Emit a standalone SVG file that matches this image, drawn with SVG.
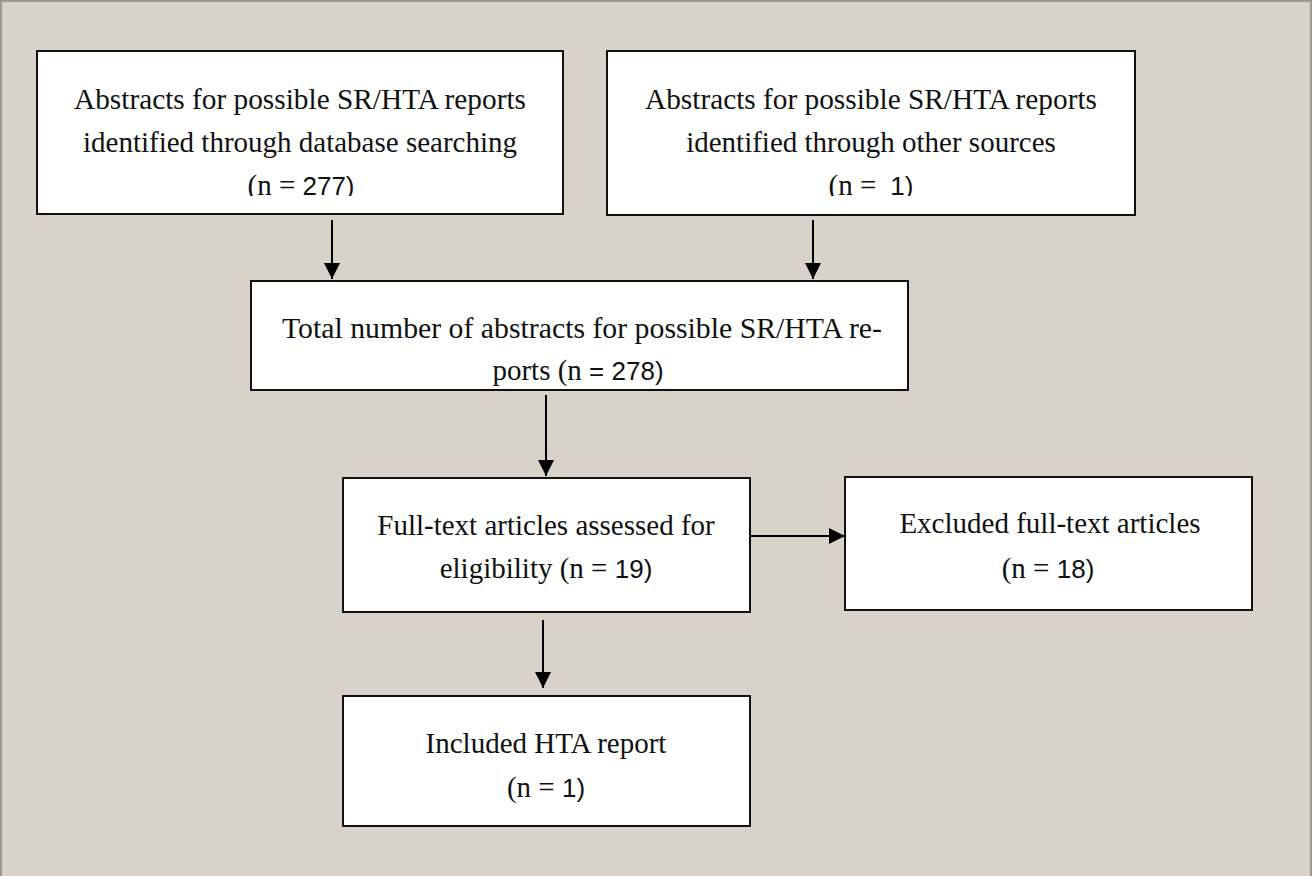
<svg xmlns="http://www.w3.org/2000/svg" width="1312" height="876" viewBox="0 0 1312 876">
<style>
.bg{fill:#d9d2cb;stroke:#9e9891;stroke-width:2}
.box{fill:#ffffff;stroke:#111111;stroke-width:2}
.t{font-family:"Liberation Serif","Times New Roman",serif;font-size:29px;fill:#111111;text-anchor:middle}
.n{font-family:"Liberation Sans",Arial,sans-serif;font-size:26px}
.c{stroke:#000000;stroke-width:2;fill:none}
</style>
<defs>
<marker id="ah" markerUnits="userSpaceOnUse" markerWidth="18" markerHeight="18" viewBox="0 0 18 18" refX="16" refY="9" orient="auto">
<path d="M0,1 L16,9 L0,17 Z" fill="#000000"/>
</marker>
<clipPath id="clip1"><rect x="0" y="0" width="1312" height="196"/></clipPath>
</defs>
<rect class="bg" x="1" y="1" width="1310" height="880"/>
<g id="connectors">
<line class="c" x1="332" y1="220" x2="332" y2="279" marker-end="url(#ah)"/>
<line class="c" x1="813" y1="220" x2="813" y2="279" marker-end="url(#ah)"/>
<line class="c" x1="546" y1="395" x2="546" y2="476" marker-end="url(#ah)"/>
<line class="c" x1="750" y1="536" x2="845" y2="536" marker-end="url(#ah)"/>
<line class="c" x1="543" y1="620" x2="543" y2="688" marker-end="url(#ah)"/>
</g>
<g id="node1">
<rect class="box" x="37" y="51" width="526" height="163"/>
<text class="t" x="300" y="109" textLength="452" lengthAdjust="spacingAndGlyphs">Abstracts for possible SR/HTA reports</text>
<text class="t" x="300" y="152">identified through database searching</text>
<text class="t" x="301" y="194.5" clip-path="url(#clip1)">(n = <tspan class="n">277)</tspan></text>
</g>
<g id="node2">
<rect class="box" x="607" y="51" width="528" height="164"/>
<text class="t" x="871" y="109" textLength="452" lengthAdjust="spacingAndGlyphs">Abstracts for possible SR/HTA reports</text>
<text class="t" x="871" y="152">identified through other sources</text>
<text class="t" x="871" y="194.5" clip-path="url(#clip1)">(n =<tspan class="n" dx="14">1)</tspan></text>
</g>
<g id="node3">
<rect class="box" x="251" y="281" width="657" height="109"/>
<text class="t" x="582" y="338" textLength="600" lengthAdjust="spacingAndGlyphs">Total number of abstracts for possible SR/HTA re-</text>
<text class="t" x="578" y="380">ports (n <tspan class="n">= 278)</tspan></text>
</g>
<g id="node4">
<rect class="box" x="343" y="478" width="407" height="134"/>
<text class="t" x="546" y="535">Full-text articles assessed for</text>
<text class="t" x="546" y="578">eligibility (n = <tspan class="n">19)</tspan></text>
</g>
<g id="node5">
<rect class="box" x="845" y="477" width="407" height="133"/>
<text class="t" x="1050" y="533">Excluded full-text articles</text>
<text class="t" x="1048" y="578">(n = <tspan class="n">18)</tspan></text>
</g>
<g id="node6">
<rect class="box" x="343" y="696" width="407" height="130"/>
<text class="t" x="546" y="753">Included HTA report</text>
<text class="t" x="546" y="797">(n = <tspan class="n">1)</tspan></text>
</g>
</svg>
